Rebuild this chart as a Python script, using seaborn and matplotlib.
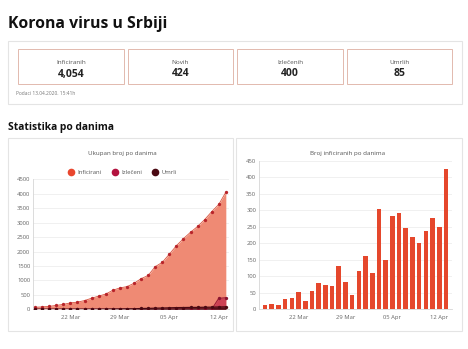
import matplotlib
matplotlib.use("Agg")
import matplotlib.pyplot as plt
from matplotlib.patches import FancyBboxPatch
from matplotlib.lines import Line2D
import seaborn as sns
import numpy as np

sns.set_theme(style="white")
plt.rcParams["font.family"] = ["Open Sans", "DejaVu Sans"]

# ---- data -------------------------------------------------------------
days = ["17 Mar", "18 Mar", "19 Mar", "20 Mar", "21 Mar", "22 Mar", "23 Mar",
        "24 Mar", "25 Mar", "26 Mar", "27 Mar", "28 Mar", "29 Mar", "30 Mar",
        "31 Mar", "01 Apr", "02 Apr", "03 Apr", "04 Apr", "05 Apr", "06 Apr",
        "07 Apr", "08 Apr", "09 Apr", "10 Apr", "11 Apr", "12 Apr", "13 Apr"]
infected_total = [72, 83, 103, 135, 171, 222, 249, 303, 384, 457, 528, 659, 741,
                  785, 900, 1060, 1171, 1476, 1624, 1908, 2200, 2447, 2666, 2867,
                  3105, 3380, 3630, 4054]
recovered_total = [0, 0, 0, 1, 1, 1, 1, 1, 1, 1, 1, 1, 1, 1, 1, 1, 1, 1, 1, 1,
                   1, 1, 1, 1, 1, 1, 380, 400]
deaths_total = [0, 0, 0, 1, 1, 2, 3, 3, 4, 5, 7, 10, 13, 16, 16, 28, 31, 39, 44,
                51, 58, 61, 65, 66, 71, 74, 80, 85]
new_cases = [14, 16, 12, 31, 35, 51, 26, 54, 81, 73, 71, 131, 82, 44, 115, 160,
             111, 305, 148, 284, 292, 247, 219, 201, 238, 275, 250, 424]

summary_labels = ["Inficiranih", "Novih", "Izlečenih", "Umrlih"]
summary_values = ["4,054", "424", "400", "85"]
tick_days = ["22 Mar", "29 Mar", "05 Apr", "12 Apr"]
series_names = ["Inficirani", "Izlečeni", "Umrli"]

C_INF = "#e9472e"
C_REC = "#b3123f"
C_DEAD = "#4a0912"
C_BAR = "#e5472c"

W, H = 468, 349
fig = plt.figure(figsize=(W / 100, H / 100), dpi=100)
fig.patch.set_facecolor("white")


def fx(x):
    return x / W


def fy(y):
    return 1 - y / H


def card(x0, y0, x1, y1, ec="#e4e4e4", lw=0.8, shadow=True):
    if shadow:
        fig.patches.append(FancyBboxPatch(
            (fx(x0), fy(y1 + 1.2)), fx(x1 - x0), (y1 - y0) / H,
            boxstyle="square,pad=0", transform=fig.transFigure,
            facecolor="#ececec", edgecolor="none", zorder=0))
    fig.patches.append(FancyBboxPatch(
        (fx(x0), fy(y1)), fx(x1 - x0), (y1 - y0) / H,
        boxstyle="square,pad=0", transform=fig.transFigure,
        facecolor="white", edgecolor=ec, linewidth=lw, zorder=1))


# ---- header -----------------------------------------------------------
fig.text(fx(8), fy(27.5), "Korona virus u Srbiji", fontsize=11.3,
         fontweight="bold", color="#111111", va="baseline", ha="left")

card(8.3, 40.7, 461.7, 104)
boxes = [(18.3, 123.7), (127.7, 233.3), (237.3, 342.7), (346.7, 452.3)]
for (bx0, bx1), lab, val in zip(boxes, summary_labels, summary_values):
    card(bx0, 49.3, bx1, 83.7, ec="#e2b9ae", lw=0.7, shadow=False)
    cx = (bx0 + bx1) / 2
    fig.text(fx(cx), fy(62), lab, fontsize=4.6, color="#555555",
             ha="center", va="center")
    fig.text(fx(cx), fy(74), val, fontsize=7.5, fontweight="bold",
             color="#222222", ha="center", va="center")
fig.text(fx(16), fy(93.3), "Podaci 13.04.2020. 15:41h", fontsize=3.5,
         color="#777777", ha="left", va="center")

fig.text(fx(8), fy(128), "Statistika po danima", fontsize=7.4,
         fontweight="bold", color="#111111", ha="left", va="center")

card(8.3, 138.3, 233.3, 330.7)
card(235.7, 138.3, 461.7, 330.7)

x = np.arange(len(days))
tick_pos = [days.index(d) for d in tick_days]


def style_axes(ax):
    ax.set_facecolor("none")
    for s in ["top", "right"]:
        ax.spines[s].set_visible(False)
    for s in ["left", "bottom"]:
        ax.spines[s].set_color("#d6d6d6")
        ax.spines[s].set_linewidth(0.6)
    ax.grid(axis="y", color="#eeeeee", linewidth=0.6)
    ax.set_axisbelow(True)
    ax.tick_params(axis="both", labelsize=4.2, colors="#666666", length=2,
                   width=0.5, pad=2)
    ax.tick_params(axis="y", length=0)
    ax.set_xlabel("")
    ax.set_ylabel("")


# ---- cumulative chart -------------------------------------------------
ax1 = fig.add_axes([fx(33), fy(309.3), fx(229 - 33), (309.3 - 179.3) / H])
ax1.set_zorder(2)
ax1.fill_between(x, infected_total, color="#ef8a74", linewidth=0, zorder=2)
ax1.fill_between(x, recovered_total, color="#c8344f", alpha=0.85,
                 linewidth=0, zorder=3)
ax1.fill_between(x, deaths_total, color=C_DEAD, alpha=0.9, linewidth=0,
                 zorder=4)
sns.lineplot(x=x, y=infected_total, ax=ax1, color="#d9533d", linewidth=0.6,
             marker="o", markersize=2.4, markeredgewidth=0,
             markerfacecolor="#b8242a", zorder=5)
sns.lineplot(x=x, y=recovered_total, ax=ax1, color="#9e1a35", linewidth=0.8,
             marker="o", markersize=2.4, markeredgewidth=0,
             markerfacecolor="#8a1330", zorder=6)
sns.lineplot(x=x, y=deaths_total, ax=ax1, color=C_DEAD, linewidth=0.9,
             marker="o", markersize=2.4, markeredgewidth=0,
             markerfacecolor=C_DEAD, zorder=7)
ax1.set_xlim(-0.3, 27.45)
ax1.set_ylim(0, 4500)
ax1.set_yticks(np.arange(0, 4501, 500))
ax1.set_xticks(tick_pos)
ax1.set_xticklabels(tick_days)
style_axes(ax1)

fig.text(fx(122), fy(153), "Ukupan broj po danima", fontsize=4.5,
         color="#555555", ha="center", va="center")
handles = [Line2D([], [], linestyle="none", marker="o", markersize=5.5,
                  markerfacecolor=c, markeredgewidth=0)
           for c in (C_INF, C_REC, C_DEAD)]
ax1.legend(handles, series_names, loc="center",
           bbox_to_anchor=(fx(121), fy(172)), bbox_transform=fig.transFigure,
           ncol=3, frameon=False, fontsize=4.3, handletextpad=0.1,
           columnspacing=1.2, labelcolor="#555555", borderaxespad=0)

# ---- daily new cases chart -------------------------------------------
ax2 = fig.add_axes([fx(259), fy(309.3), fx(452 - 259), (309.3 - 160.7) / H])
ax2.set_zorder(2)
sns.barplot(x=x, y=new_cases, ax=ax2, color=C_BAR, saturation=1, width=0.68,
            linewidth=0, edgecolor=C_BAR)
ax2.set_xlim(-0.9, 27.9)
ax2.set_ylim(0, 450)
ax2.set_yticks(np.arange(0, 451, 50))
ax2.set_xticks(tick_pos)
ax2.set_xticklabels(tick_days)
style_axes(ax2)
fig.text(fx(348), fy(153.3), "Broj inficiranih po danima", fontsize=4.5,
         color="#555555", ha="center", va="center")

fig.savefig("out.png", dpi=100, facecolor="white")
